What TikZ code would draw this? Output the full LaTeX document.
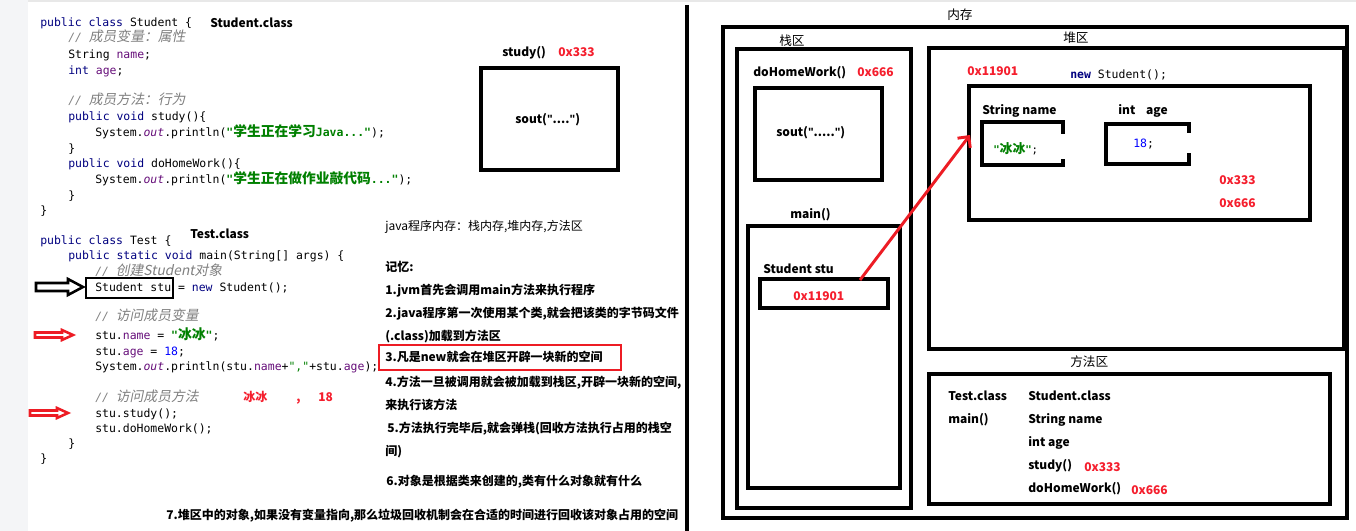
\documentclass[tikz,border=0pt]{standalone}
\usepackage{fontspec}
\setmainfont{Noto Sans CJK SC}
\setmonofont{DejaVu Sans Mono}
\newfontfamily\cjk{Noto Sans CJK SC}[Scale=1.2]
\newfontfamily\cjki{Noto Sans CJK SC}[FakeSlant=0.2,Scale=1.2]
\newfontfamily\qf{Liberation Sans}
\usetikzlibrary{arrows.meta}
\definecolor{kwc}{RGB}{0,0,128}
\definecolor{fldc}{RGB}{102,14,122}
\definecolor{strc}{RGB}{0,128,0}
\definecolor{cmtc}{RGB}{128,128,128}
\definecolor{numc}{RGB}{0,0,255}
\definecolor{addrred}{RGB}{245,30,45}
\definecolor{arrred}{RGB}{237,28,36}
\definecolor{stripc}{RGB}{244,245,247}
\newcommand\ckw[1]{\textcolor{kwc}{#1}}
\newcommand\cfld[1]{\textcolor{fldc}{#1}}
\newcommand\cfldi[1]{\textcolor{fldc}{\itshape #1}}
\newcommand\cstr[1]{\textcolor{strc}{\bfseries #1}}
\newcommand\cnum[1]{\textcolor{numc}{#1}}
\newcommand\zhc[1]{{\cjk #1}}
\newcommand\dq{{\qf\bfseries"}}
\newcommand\ccmt[1]{\textcolor{cmtc}{\itshape // {\cjki #1}}}
\newcommand\bx[6][]{\node[box,#1,minimum width={(#5-#3)*0.75pt},minimum height={(#6-#4)*0.75pt}] (#2) at ({(#3+#5)/2},{(#4+#6)/2}) {};}
\begin{document}
\begin{tikzpicture}[x=0.75pt,y=-0.75pt,
  lbl/.style={inner sep=0pt, anchor=west, text height=0.7em, text depth=0pt, font=\fontsize{9}{11}\selectfont\bfseries},
  code/.style={lbl, font=\fontsize{8.6}{10}\selectfont\ttfamily},
  zh/.style={lbl, font=\fontsize{9.5}{11}\selectfont},
  note/.style={lbl, font=\fontsize{9}{11}\selectfont\bfseries},
  addr/.style={lbl, text=addrred},
  box/.style={draw, line width=2.6pt, inner sep=0pt},
  hollow/.style={draw, line width=1.9pt, line join=miter}]
\useasboundingbox (0,0) rectangle (1356,531);
\fill[white] (0,0) rectangle (1356,531);
\fill[stripc] (0,0) rectangle (28,531);
\fill[black!9] (28,0) rectangle (1356,2);

% ---------- code ----------
\node[code] (c1) at (40,22) {\ckw{public class} Student \{};
\node[lbl] (sc) at (210,23) {Student.class};
\node[code] (c2) at (68,37) {\ccmt{成员变量：属性}};
\node[code] (c3) at (68,54) {String \cfld{name};};
\node[code] (c4) at (68,70) {\ckw{int} \cfld{age};};
\node[code] (c5) at (68,100) {\ccmt{成员方法：行为}};
\node[code] (c6) at (68,116) {\ckw{public void} study()\{};
\node[code] (c7) at (95,132) {System.\cfldi{out}.println(\cstr{"\zhc{学生正在学习}Java..."});};
\node[code] (c8) at (68,148) {\}};
\node[code] (c9) at (68,163) {\ckw{public void} doHomeWork()\{};
\node[code] (c10) at (95,179) {System.\cfldi{out}.println(\cstr{"\zhc{学生正在做作业敲代码}..."});};
\node[code] (c11) at (68,195) {\}};
\node[code] (c12) at (40,210) {\}};
\node[code] (c13) at (40,240) {\ckw{public class} Test \{};
\node[lbl] (tc) at (190,234) {Test.class};
\node[code] (c14) at (68,255) {\ckw{public static void} main(String[] args) \{};
\node[code] (c15) at (95,271) {\ccmt{创建Student对象}};
\node[code] (c16) at (95,287) {Student stu = \ckw{new} Student();};
\node[code] (c17) at (95,316) {\ccmt{访问成员变量}};
\node[code] (c18) at (95,335) {stu.\cfld{name} = \cstr{"\zhc{冰冰}"};};
\node[code] (c19) at (95,351) {stu.\cfld{age} = \cnum{18};};
\node[code] (c20) at (95,366) {System.\cfldi{out}.println(stu.\cfld{name}+\textcolor{strc}{","}+stu.\cfld{age});};
\node[code] (c21) at (95,397) {\ccmt{访问成员方法}};
\node[code] (c22) at (95,413) {stu.study();};
\node[code] (c23) at (95,428) {stu.doHomeWork();};
\node[code] (c24) at (68,443) {\}};
\node[code] (c25) at (40,458) {\}};
\node[addr] (r1) at (243,397) {冰冰};
\node[addr] (r2) at (296,397) {,};
\node[addr] (r3) at (318,397) {18};
\bx[line width=2.2pt]{stubox}{86}{278}{173}{298}
% hollow arrows
\draw[hollow] (36,283) -- (68,283) -- (68,279) -- (83,287) -- (68,295) -- (68,291) -- (36,291) -- cycle;
\draw[hollow, draw=arrred] (35,332.5) -- (62,332.5) -- (62,330) -- (73,335) -- (62,340) -- (62,337.5) -- (35,337.5) -- cycle;
\draw[hollow, draw=arrred] (30,410.5) -- (57,410.5) -- (57,408) -- (68,413) -- (57,418) -- (57,415.5) -- (30,415.5) -- cycle;

% ---------- study() ----------
\node[lbl] (studyl) at (502,52) {study()};
\node[addr] (studya) at (558,52) {0x333};
\bx{studyb}{481}{68}{618}{170}
\node[lbl] (studys) at (515,119) {sout(\dq....\dq)};

% ---------- notes ----------
\node[zh, font=\fontsize{9}{11}\selectfont] (n0) at (385,226) {java程序内存：栈内存,堆内存,方法区};
\node[note] (n1) at (385,267) {记忆:};
\node[note] (n2) at (385,290) {1.jvm首先会调用main方法来执行程序};
\node[note] (n3) at (385,313) {2.java程序第一次使用某个类,就会把该类的字节码文件};
\node[note] (n4) at (385,336) {(.class)加载到方法区};
\node[note] (n5) at (385,357) {3.凡是new就会在堆区开辟一块新的空间};
\bx[draw=arrred, line width=2.2pt]{redbox}{379}{345}{621}{370}
\node[note] (n6) at (385,382) {4.方法一旦被调用就会被加载到栈区,开辟一块新的空间,};
\node[note] (n7) at (385,405) {来执行该方法};
\node[note] (n8) at (387,428) {5.方法执行完毕后,就会弹栈(回收方法执行占用的栈空};
\node[note] (n9) at (385,451) {间)};
\node[note] (n10) at (386,481) {6.对象是根据类来创建的,类有什么对象就有什么};
\node[note] (n11) at (166,515) {7.堆区中的对象,如果没有变量指向,那么垃圾回收机制会在合适的时间进行回收该对象占用的空间};

% divider
\coordinate (dtop) at (687,5);
\coordinate (dbot) at (687,531);
\draw[line width=2.6pt] (dtop) -- (dbot);

% ---------- memory ----------
\node[zh] (memt) at (947,15) {内存};
\bx{outer}{723}{27}{1347}{518}
\node[zh] (stackt) at (779,41) {栈区};
\bx{stack}{737}{49}{911}{508}
\node[lbl] (dhwl) at (753,72) {doHomeWork()};
\node[addr] (dhwa) at (857,72) {0x666};
\bx{dhw}{755}{88}{882}{180}
\node[lbl] (dhws) at (776,132) {sout(\dq.....\dq)};
\node[lbl] (mainl) at (790,214) {main()};
\bx{mainf}{748}{226}{900}{488}
\node[lbl] (stul) at (763,269) {Student stu};
\bx[line width=2.4pt]{stuv}{760}{279}{888}{308}
\node[addr] (stua) at (793,296) {0x11901};

\node[zh] (heapt) at (1063,38) {堆区};
\bx{heap}{929}{48}{1344}{349}
\node[addr] (heapa) at (967,71) {0x11901};
\node[code] (newst) at (1070,74) {\ckw{\bfseries new} Student();};
\bx{obj}{969}{86}{1310}{220}
\node[lbl] (snl) at (982,110) {String name};
\draw[line width=2.4pt] (1063,134) -- (1063,122) -- (982,122) -- (982,165) -- (1063,165) -- (1063,159);
\node[code, font=\fontsize{8}{10}\selectfont\ttfamily] (snv) at (993,149) {\cstr{"\zhc{冰冰}"};};
\node[lbl] (ial) at (1118,110) {int\hspace{0.9em}age};
\draw[line width=2.4pt] (1189,133) -- (1189,124) -- (1106,124) -- (1106,164) -- (1189,164) -- (1189,153);
\node[code] (iav) at (1133,143) {\cnum{18};};
\node[addr] (ha1) at (1219,180) {0x333};
\node[addr] (ha2) at (1219,203) {0x666};

\coordinate (arrS) at (860,280);
\coordinate (arrE) at (970,135);
\draw[arrred, line width=2.2pt, -{Straight Barb[length=6pt,width=12pt,line width=2.2pt]}] (arrS) -- (arrE);

\node[zh] (metht) at (1070,362) {方法区};
\bx{meth}{929}{374}{1330}{504}
\node[lbl] (m1) at (948,396) {Test.class};
\node[lbl] (m2) at (1028,396) {Student.class};
\node[lbl] (m3) at (948,419) {main()};
\node[lbl] (m4) at (1028,419) {String name};
\node[lbl] (m5) at (1028,442) {int age};
\node[lbl] (m6) at (1028,465) {study()};
\node[addr] (m7) at (1084,467) {0x333};
\node[lbl] (m8) at (1028,488) {doHomeWork()};
\node[addr] (m9) at (1131,490) {0x666};
\end{tikzpicture}
\end{document}
